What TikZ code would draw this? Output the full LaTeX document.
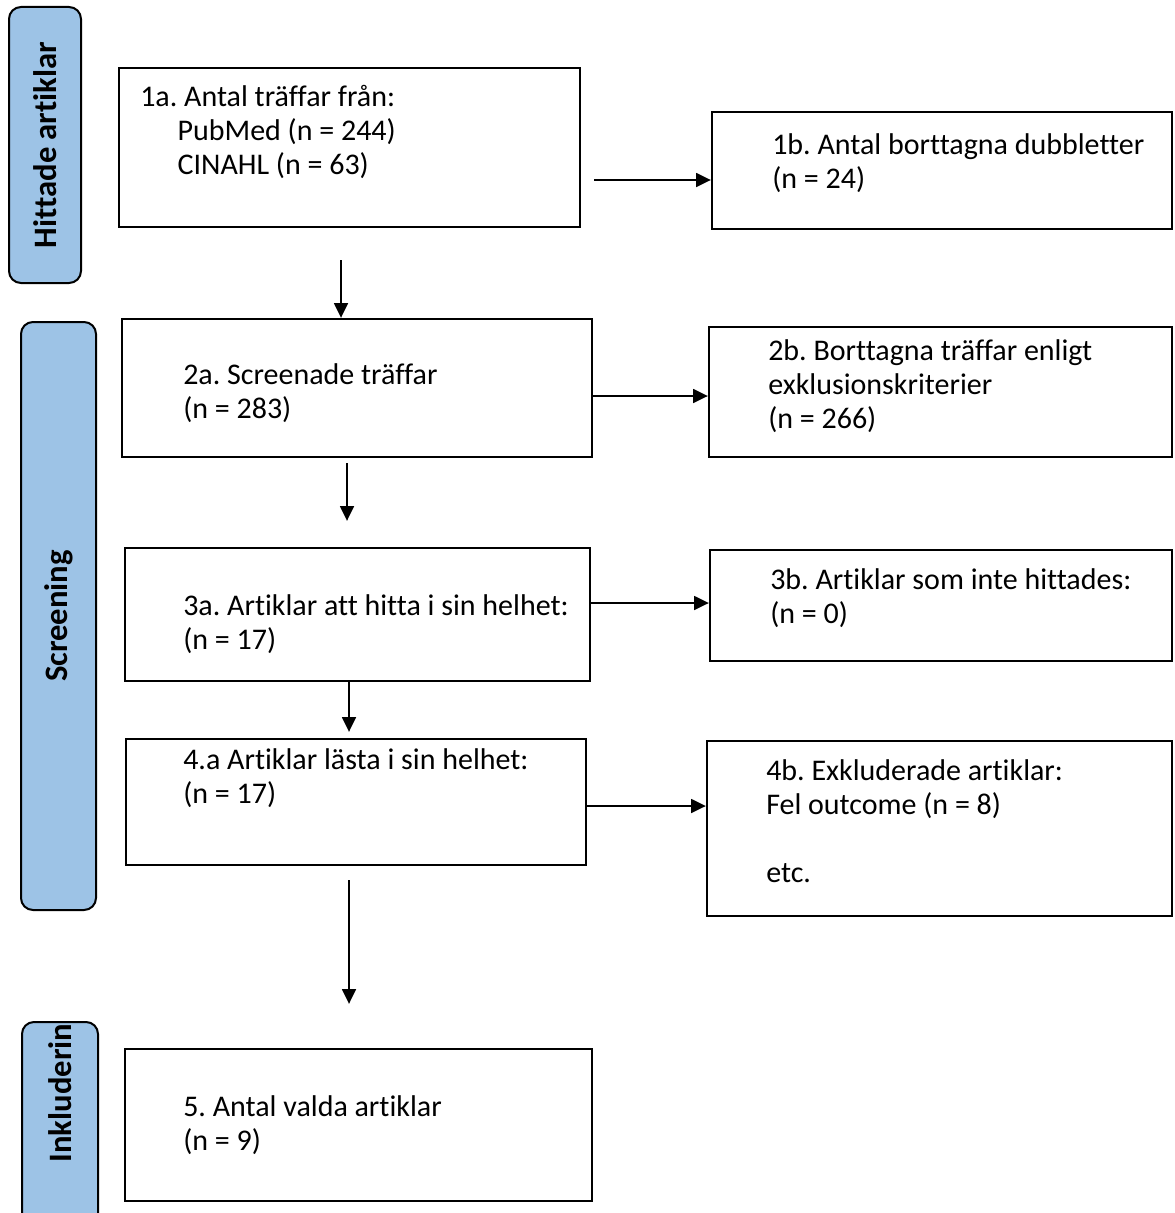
\documentclass[tikz,border=0pt]{standalone}
\usepackage{fontspec}
\setmainfont{Carlito}[Ligatures=CommonOff]
\usepackage{tikz}
\usetikzlibrary{arrows.meta,fit}
\definecolor{sidebar}{HTML}{9DC3E6}
\frenchspacing
\tikzset{
  box/.style={draw=black, line width=1.8pt, inner sep=0pt},
  stage/.style={draw=black, line width=1.5pt, fill=sidebar, rounded corners=9pt, inner sep=0pt},
  stagelabel/.style={font=\bfseries\fontsize{24.5}{28}\selectfont, rotate=90, inner sep=0pt},
  btext/.style={font=\fontsize{22.5}{25.5}\selectfont, align=left, anchor=north west, inner sep=0pt},
  arr/.style={draw=black, line width=1pt, -{Triangle[length=11pt,width=10.5pt]}}
}

\begin{document}
\begin{tikzpicture}[x=0.75pt,y=-0.75pt]
  \useasboundingbox (0,0) rectangle (1174,1213);

  % Stage bars on the left.
  \node[stage, fit={(9,7) (81,283)}] (s1) {};
  \node[stagelabel] (s1t) at (s1.center) {Hittade artiklar};
  \node[stage, fit={(21,322) (96,910)}] (s2) {};
  \node[stagelabel] (s2t) at (s2.center) {Screening};
  \node[stage, fit={(22,1022) (98,1260)}] (s3) {};
  \node[stagelabel] (s3t) at (60,1093) {Inkluderin};

  % Main column.
  \node[box, fit={(119,68) (580,227)}] (b1a) {};
  \node[box, fit={(122,319) (592,457)}] (b2a) {};
  \node[box, fit={(125,548) (590,681)}] (b3a) {};
  \node[box, fit={(126,739) (586,865)}] (b4a) {};
  \node[box, fit={(125,1049) (592,1201)}] (b5) {};

  % Exclusion column.
  \node[box, fit={(712,112) (1172,229)}] (b1b) {};
  \node[box, fit={(709,327) (1172,457)}] (b2b) {};
  \node[box, fit={(710,550) (1172,661)}] (b3b) {};
  \node[box, fit={(707,741) (1172,916)}] (b4b) {};

  % Box texts.
  \node[btext] (t1a) at (140,85) {1a. Antal träffar från:\\
    \hspace*{28pt}PubMed (n = 244)\\\hspace*{28pt}CINAHL (n = 63)};
  \node[btext] (t1b) at (772,133) {1b. Antal borttagna dubbletter\\(n = 24)};
  \node[btext] (t2a) at (183,363) {2a. Screenade träffar\\(n = 283)};
  \node[btext] (t2b) at (768,339) {2b. Borttagna träffar enligt\\
    exklusionskriterier\\(n = 266)};
  \node[btext] (t3a) at (183,594) {3a. Artiklar att hitta i sin helhet:\\(n = 17)};
  \node[btext] (t3b) at (770,568) {3b. Artiklar som inte hittades:\\(n = 0)};
  \node[btext] (t4a) at (183,748) {4.a Artiklar lästa i sin helhet:\\(n = 17)};
  \node[btext] (t4b) at (766,759) {4b. Exkluderade artiklar:\\
    Fel outcome (n = 8)\\[25.5pt]etc.};
  \node[btext] (t5) at (183,1095) {5. Antal valda artiklar\\(n = 9)};

  % Arrows.
  \coordinate (h1) at (594,180);
  \coordinate (h2) at (592,396);
  \coordinate (h3) at (590,603);
  \coordinate (h4) at (586,806);
  \draw[arr] (h1) -- (h1 -| b1b.west);
  \draw[arr] (h2) -- (h2 -| b2b.west);
  \draw[arr] (h3) -- (h3 -| b3b.west);
  \draw[arr] (h4) -- (h4 -| b4b.west);

  \coordinate (v1) at (341,260);
  \coordinate (v2) at (347,463);
  \coordinate (v3) at (349,681);
  \coordinate (v4) at (349,880);
  \draw[arr] (v1) -- (v1 |- b2a.north);
  \draw[arr, shorten >=19.5pt] (v2) -- (v2 |- b3a.north);
  \draw[arr, shorten >=4.5pt] (v3) -- (v3 |- b4a.north);
  \draw[arr, shorten >=33pt] (v4) -- (v4 |- b5.north);
\end{tikzpicture}
\end{document}
